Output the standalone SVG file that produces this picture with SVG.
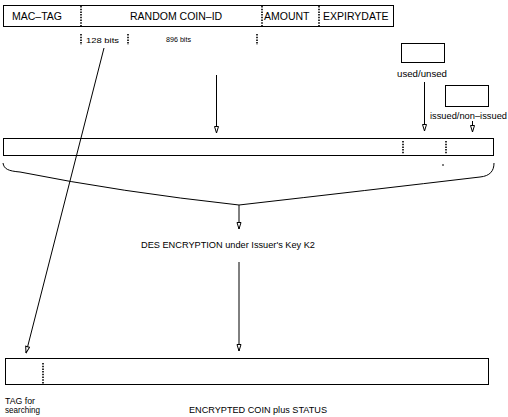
<svg xmlns="http://www.w3.org/2000/svg" width="508" height="417" viewBox="0 0 508 417">
<style>
.box{fill:#fff;stroke:#000;stroke-width:1}
.dot{stroke:#000;stroke-width:1.6;stroke-dasharray:1.5 1.2;fill:none}
.ln{stroke:#000;stroke-width:1;fill:none}
.arr{stroke:#000;stroke-width:1;fill:none;marker-end:url(#ah)}
text{font-family:"Liberation Sans",Arial,sans-serif;fill:#000}
.big{font-size:10.5px}
.mid{font-size:9px}
.sm{font-size:8px}
</style>
<defs>
<marker id="ah" viewBox="0 0 8 6" refX="7.5" refY="3" markerWidth="8" markerHeight="6" markerUnits="userSpaceOnUse" orient="auto">
<path d="M1,1 L7.5,3 L1,5 Z" fill="#fff" stroke="#000" stroke-width="1"/>
</marker>
</defs>
<rect width="508" height="417" fill="#fff"/>

<g id="coin-fields">
<rect class="box" x="3.5" y="5.5" width="390" height="21"/>
<line class="dot" x1="81" y1="6" x2="81" y2="26"/>
<line class="dot" x1="262" y1="6" x2="262" y2="26"/>
<line class="dot" x1="319" y1="6" x2="319" y2="26"/>
<text class="big" x="12" y="20">MAC–TAG</text>
<text class="big" x="130" y="20">RANDOM COIN–ID</text>
<text class="big" x="264" y="20">AMOUNT</text>
<text class="big" x="323" y="20">EXPIRYDATE</text>
</g>

<g id="bit-sizes">
<line class="dot" x1="81" y1="34" x2="81" y2="45"/>
<line class="dot" x1="128" y1="34" x2="128" y2="45"/>
<line class="dot" x1="257" y1="34" x2="257" y2="45"/>
<text class="sm" x="86" y="43" textLength="33" lengthAdjust="spacingAndGlyphs">128 bits</text>
<text class="sm" x="166" y="42" textLength="25" lengthAdjust="spacingAndGlyphs">896 bits</text>
</g>

<g id="used-box">
<rect class="box" x="401.5" y="43.5" width="43" height="19"/>
<text class="mid" x="397" y="77" textLength="50" lengthAdjust="spacingAndGlyphs">used/unsed</text>
</g>

<g id="issued-box">
<rect class="box" x="445.5" y="85.5" width="43" height="21"/>
<text class="mid" x="430" y="119" textLength="77" lengthAdjust="spacingAndGlyphs">issued/non–issued</text>
</g>

<g id="plain-coin">
<rect class="box" x="3.5" y="138.5" width="490" height="17"/>
<line class="dot" x1="403" y1="141" x2="403" y2="154"/>
<line class="dot" x1="446" y1="141" x2="446" y2="154"/>
<line class="ln" x1="443" y1="164" x2="443" y2="166"/>
</g>

<g id="brace">
<path class="ln" d="M3,163 C4,169 8,171 20,172 Q120,192 239,205 Q370,190 480,177 C490,176 494,171 494,163"/>
</g>

<g id="des-label">
<text class="mid" x="141" y="248" textLength="174" lengthAdjust="spacingAndGlyphs">DES ENCRYPTION under Issuer's Key K2</text>
</g>

<g id="encrypted-coin">
<rect class="box" x="5.5" y="358.5" width="483" height="26"/>
<line class="dot" x1="43" y1="363" x2="43" y2="384"/>
<text class="mid" x="5" y="404" textLength="30" lengthAdjust="spacingAndGlyphs">TAG for</text>
<text class="mid" x="5" y="413" textLength="35" lengthAdjust="spacingAndGlyphs">searching</text>
<text class="mid" x="189" y="413" textLength="138" lengthAdjust="spacingAndGlyphs">ENCRYPTED COIN plus STATUS</text>
</g>

<g id="connectors">
<line class="arr" x1="216.5" y1="75" x2="216.5" y2="133"/>
<line class="arr" x1="424.5" y1="82" x2="424.5" y2="131"/>
<line class="arr" x1="472.5" y1="121" x2="472.5" y2="132"/>
<line class="arr" x1="239" y1="205" x2="239" y2="229"/>
<line class="arr" x1="239" y1="262" x2="239" y2="351"/>
<line class="arr" x1="104" y1="48" x2="26" y2="353"/>
</g>
</svg>
